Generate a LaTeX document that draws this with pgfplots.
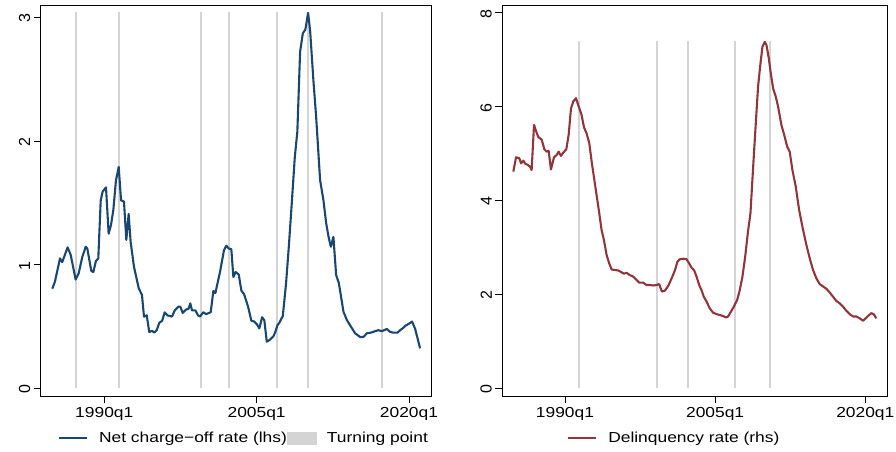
\documentclass[border=0pt]{standalone}
\usepackage{fontspec}
\setmainfont{Liberation Sans}[FakeStretch=1.2]
\newfontfamily\yfont{Liberation Sans}
\usepackage{pgfplots}
\pgfplotsset{compat=1.18}

\definecolor{navy}{HTML}{1A476F}
\definecolor{maroon}{HTML}{90353B}
\definecolor{tpgray}{HTML}{D4D4D4}

\pgfplotsset{
  statabox/.style={
    scale only axis, anchor=south west,
    height=391pt,
    xmin=1983.74, xmax=2022.24,
    xtick={1990,2005,2020},
    xticklabels={1990q1,2005q1,2020q1},
    tick align=outside, major tick length=7pt,
    xtick pos=bottom, ytick pos=left,
    tick style={black, line width=0.8pt},
    axis line style={black, line width=0.9pt},
    x tick label style={font=\fontsize{14.5}{16}\selectfont, yshift=-1pt},
    y tick label style={font=\yfont\fontsize{16}{17}\selectfont, rotate=90, anchor=south, xshift=-1pt},
    legend style={draw=none, fill=none, legend columns=2,
      font=\fontsize{14.5}{16}\selectfont,
      nodes={inner sep=0pt},
      /tikz/every odd column/.style={column sep=11pt}},
    legend cell align=left,
    legend image code/.code={\draw[#1] (0pt,0pt) -- (28pt,0pt);},
  },
  tpline/.style={tpgray, line width=2pt, forget plot},
}

\begin{document}
\begin{tikzpicture}
\path[use as bounding box] (0,0) rectangle (896pt,451pt);

% left panel: net charge-off rate
\begin{axis}[statabox, at={(40.7pt,55pt)}, width=391pt,
  ymin=-0.062, ymax=3.099, ytick={0,1,2,3}, yticklabels={0,1,2,3},
  legend style={at={(0.036,-0.107)}, anchor=west}]
\addplot[tpline] coordinates {(1987.24,0) (1987.24,3.04)};
\addplot[tpline] coordinates {(1991.45,0) (1991.45,3.04)};
\addplot[tpline] coordinates {(1999.53,0) (1999.53,3.04)};
\addplot[tpline] coordinates {(2002.29,0) (2002.29,3.04)};
\addplot[tpline] coordinates {(2007.00,0) (2007.00,3.04)};
\addplot[tpline] coordinates {(2010.07,0) (2010.07,3.04)};
\addplot[tpline] coordinates {(2017.35,0) (2017.35,3.04)};
\addplot[navy, line width=2.1pt, line join=round] coordinates {
(1984.88,0.805)(1985.14,0.862)(1985.64,1.05)(1985.86,1.02)(1986.39,1.14)(1986.69,1.08)
(1987.18,0.88)(1987.48,0.93)(1987.83,1.06)(1988.17,1.145)(1988.33,1.13)(1988.59,1.01)
(1988.72,0.95)(1988.92,0.94)(1989.18,1.03)(1989.41,1.05)(1989.65,1.52)(1989.84,1.59)
(1990.17,1.625)(1990.43,1.25)(1990.66,1.32)(1990.89,1.44)(1991.15,1.68)(1991.42,1.79)
(1991.65,1.52)(1991.94,1.51)(1992.17,1.20)(1992.4,1.41)(1992.6,1.18)(1992.93,0.98)
(1993.39,0.81)(1993.71,0.755)(1993.91,0.58)(1994.18,0.59)(1994.43,0.455)(1994.7,0.465)
(1994.93,0.45)(1995.16,0.47)(1995.42,0.53)(1995.69,0.545)(1995.95,0.614)(1996.21,0.59)
(1996.67,0.58)(1996.94,0.63)(1997.29,0.66)(1997.49,0.66)(1997.72,0.61)(1998.05,0.636)
(1998.31,0.645)(1998.47,0.687)(1998.64,0.63)(1998.97,0.63)(1999.23,0.59)(1999.43,0.58)
(1999.75,0.615)(2000.02,0.60)(2000.48,0.615)(2000.74,0.787)(2000.94,0.77)(2001.4,0.943)
(2001.79,1.118)(2002.02,1.153)(2002.26,1.13)(2002.51,1.125)(2002.71,0.90)(2002.94,0.94)
(2003.24,0.92)(2003.5,0.79)(2003.77,0.76)(2004.16,0.66)(2004.48,0.547)(2004.75,0.54)
(2005.01,0.52)(2005.27,0.485)(2005.54,0.575)(2005.76,0.55)(2006.0,0.377)(2006.26,0.39)
(2006.65,0.42)(2006.85,0.458)(2007.05,0.51)(2007.24,0.53)(2007.58,0.585)(2007.9,0.85)
(2008.17,1.145)(2008.46,1.495)(2008.76,1.87)(2009.01,2.075)(2009.28,2.72)(2009.55,2.87)
(2009.8,2.90)(2010.07,3.036)(2010.27,2.89)(2010.59,2.49)(2010.86,2.196)(2011.25,1.684)
(2011.58,1.52)(2011.85,1.334)(2012.11,1.213)(2012.31,1.145)(2012.56,1.225)(2012.83,0.916)
(2013.1,0.85)(2013.55,0.62)(2013.88,0.553)(2014.28,0.50)(2014.7,0.445)(2015.19,0.415)
(2015.52,0.415)(2015.85,0.445)(2016.24,0.45)(2016.67,0.462)(2017.0,0.47)(2017.33,0.462)
(2017.82,0.48)(2018.15,0.456)(2018.47,0.45)(2018.87,0.45)(2019.13,0.47)(2019.46,0.49)
(2019.63,0.505)(2019.95,0.52)(2020.31,0.54)(2020.61,0.48)(2021.1,0.323)};
\addlegendentry{Net charge−off rate (lhs)}
\addlegendimage{legend image code/.code={\fill[tpgray] (0pt,-6pt) rectangle (28.7pt,6pt);}}
\addlegendentry{Turning point}
\end{axis}

% right panel: delinquency rate
\begin{axis}[statabox, at={(502.3pt,55pt)}, width=385.4pt,
  ymin=-0.164, ymax=8.164, ytick={0,2,4,6,8}, yticklabels={0,2,4,6,8},
  legend style={at={(0.16,-0.107)}, anchor=west}]
\addplot[tpline] coordinates {(1991.40,0) (1991.40,7.39)};
\addplot[tpline] coordinates {(1999.18,0) (1999.18,7.39)};
\addplot[tpline] coordinates {(2002.28,0) (2002.28,7.39)};
\addplot[tpline] coordinates {(2006.97,0) (2006.97,7.39)};
\addplot[tpline] coordinates {(2010.53,0) (2010.53,7.39)};
\addplot[maroon, line width=2.1pt, line join=round] coordinates {
(1984.84,4.615)(1985.11,4.92)(1985.44,4.90)(1985.61,4.79)(1985.84,4.85)(1986.04,4.78)
(1986.27,4.76)(1986.51,4.72)(1986.67,4.65)(1986.91,5.61)(1987.11,5.48)(1987.34,5.35)
(1987.67,5.30)(1987.94,5.09)(1988.17,5.04)(1988.37,5.06)(1988.60,4.66)(1988.9,4.92)
(1989.17,4.97)(1989.37,5.04)(1989.6,4.95)(1989.83,5.02)(1990.13,5.09)(1990.37,5.40)
(1990.6,5.96)(1990.83,6.11)(1991.1,6.18)(1991.33,6.03)(1991.66,5.82)(1991.9,5.56)
(1992.16,5.43)(1992.43,5.22)(1992.69,4.79)(1992.96,4.40)(1993.33,3.87)(1993.66,3.37)
(1993.89,3.16)(1994.16,2.84)(1994.42,2.66)(1994.66,2.53)(1994.99,2.52)(1995.32,2.51)
(1995.66,2.47)(1995.89,2.44)(1996.15,2.46)(1996.49,2.41)(1996.82,2.38)(1997.15,2.31)
(1997.42,2.25)(1997.82,2.25)(1998.15,2.20)(1998.48,2.20)(1998.82,2.19)(1999.15,2.20)
(1999.41,2.22)(1999.68,2.06)(1999.98,2.08)(2000.31,2.18)(2000.65,2.34)(2000.98,2.51)
(2001.24,2.70)(2001.48,2.75)(2001.81,2.76)(2002.14,2.75)(2002.41,2.66)(2002.64,2.57)
(2002.91,2.51)(2003.14,2.38)(2003.41,2.20)(2003.64,2.09)(2003.87,1.95)(2004.14,1.85)
(2004.47,1.70)(2004.80,1.61)(2005.14,1.58)(2005.47,1.56)(2005.80,1.54)(2006.07,1.51)
(2006.30,1.53)(2006.57,1.63)(2006.87,1.74)(2007.2,1.88)(2007.46,2.09)(2007.73,2.38)
(2008.0,2.80)(2008.26,3.30)(2008.53,3.73)(2008.80,4.72)(2009.06,5.64)(2009.29,6.43)
(2009.53,6.92)(2009.73,7.28)(2009.96,7.38)(2010.13,7.31)(2010.36,7.03)(2010.56,6.71)
(2010.79,6.39)(2011.06,6.21)(2011.29,6.00)(2011.62,5.61)(2011.96,5.35)(2012.19,5.15)
(2012.45,5.04)(2012.72,4.65)(2013.05,4.30)(2013.39,3.80)(2013.72,3.44)(2014.12,3.05)
(2014.45,2.77)(2014.78,2.52)(2015.12,2.34)(2015.45,2.22)(2015.78,2.17)(2016.11,2.12)
(2016.45,2.04)(2016.78,1.95)(2017.11,1.86)(2017.45,1.81)(2017.78,1.74)(2018.11,1.65)
(2018.44,1.58)(2018.78,1.53)(2019.11,1.53)(2019.44,1.49)(2019.77,1.44)(2020.04,1.49)
(2020.27,1.54)(2020.6,1.60)(2020.84,1.58)(2021.1,1.49)};
\addlegendentry{Delinquency rate (rhs)}
\end{axis}
\end{tikzpicture}
\end{document}
